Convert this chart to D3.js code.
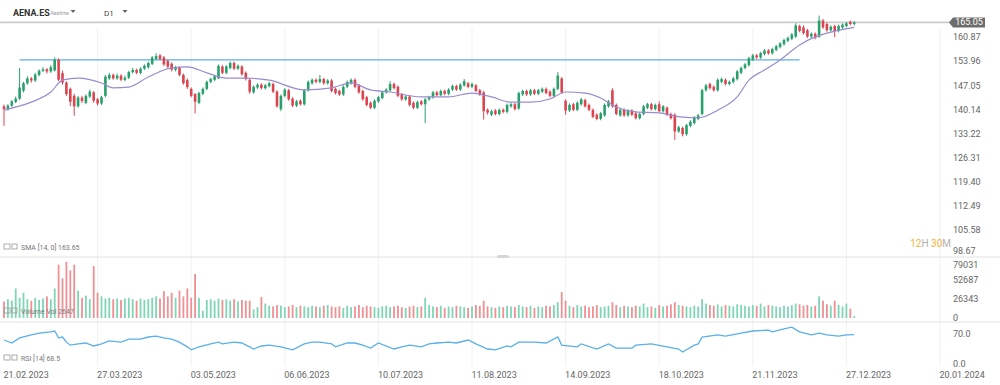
<!DOCTYPE html>
<html>
<head>
<meta charset="utf-8">
<script src="https://cdn.jsdelivr.net/npm/d3@7/dist/d3.min.js"></script>
<style>
  body { margin: 0; background: #fff; }
  #chart { width: 1000px; height: 385px; }
  text { font-family: Roboto, "Open Sans", sans-serif; }
</style>
</head>
<body>
<div id="chart"></div>
<script>
// daily candles AENA.ES, 21.02.2023 .. end of Dec 2023
const open = [
  141.0,140.2,141.2,142.3,143.2,145.5,147.6,149.0,148.4,150.0,
  151.2,151.6,151.0,151.3,154.3,150.5,147.8,146.0,144.0,141.0,
  143.5,142.0,143.8,145.0,143.0,141.8,144.0,149.0,150.0,149.0,
  149.8,148.6,149.2,150.8,151.4,150.6,151.8,152.2,153.2,154.6,
  155.6,155.0,154.0,153.2,151.5,152.0,150.0,148.5,146.0,144.5,
  142.0,144.6,146.0,148.0,148.6,149.0,152.4,150.6,152.0,153.4,
  151.8,152.4,150.6,148.6,145.0,146.4,147.2,146.2,146.8,147.4,
  145.2,140.2,144.0,145.6,143.2,141.2,142.6,141.6,145.6,147.6,
  148.6,148.0,148.8,147.6,148.4,146.0,145.4,144.4,146.6,147.6,
  148.6,147.0,145.4,143.6,142.0,140.6,142.4,143.4,145.0,145.6,
  147.4,146.6,144.4,143.0,143.8,142.0,140.6,142.4,141.6,143.0,
  143.6,145.0,144.2,145.4,144.6,145.8,146.8,145.8,147.0,147.6,
  146.6,147.0,145.6,145.0,140.0,138.6,139.8,138.8,140.0,139.4,
  141.0,141.6,140.4,144.4,145.4,144.4,145.6,144.6,145.2,146.0,
  145.2,144.0,146.0,149.0,142.6,139.8,141.6,140.0,141.6,142.8,
  141.4,140.0,138.6,137.4,138.4,141.0,145.6,141.4,138.4,140.0,
  138.4,139.8,139.0,137.6,138.8,140.6,141.6,140.2,141.6,139.6,
  140.6,138.8,138.6,133.8,134.8,133.0,135.4,136.2,137.4,138.8,
  145.6,147.4,146.6,145.6,148.0,148.6,147.4,148.0,148.8,150.6,
  152.0,152.8,154.4,155.6,155.0,156.0,157.0,156.2,157.2,158.0,
  158.8,159.8,160.4,161.0,164.0,163.6,162.8,161.0,161.8,161.0,
  165.6,164.6,162.8,164.0,162.6,163.6,164.0,165.2,164.6
];
const high = [
  141.5,141.6,142.8,143.8,152.0,148.0,149.6,149.4,150.6,151.6,
  152.2,152.0,152.8,155.0,154.8,151.2,148.2,146.4,144.6,144.0,
  144.0,144.4,145.8,145.4,143.4,144.0,150.0,150.6,150.4,150.4,
  150.2,149.8,151.2,152.0,151.8,152.2,153.0,153.8,155.4,156.2,
  156.0,155.4,154.4,153.6,152.6,152.4,150.4,149.0,146.4,144.8,
  145.2,146.4,148.4,149.2,150.0,153.0,152.8,152.8,153.8,153.8,
  153.0,152.8,151.0,149.0,147.0,147.6,147.6,147.4,148.0,147.8,
  145.6,144.4,146.2,146.0,143.6,142.8,143.0,146.0,148.4,149.0,
  149.0,150.0,149.2,148.8,148.8,146.4,145.8,147.0,148.4,149.0,
  149.0,147.4,145.8,144.0,142.4,143.0,144.0,145.4,146.2,148.2,
  147.8,147.0,144.8,144.2,144.2,142.4,142.6,142.8,143.4,144.0,
  145.4,145.4,145.8,145.8,146.2,147.2,147.2,147.6,148.8,148.0,
  147.8,147.4,146.0,145.4,140.4,140.0,140.2,140.4,140.4,141.8,
  142.0,142.0,145.2,145.8,145.8,146.0,146.0,146.0,146.4,146.4,
  145.6,146.4,150.8,149.4,143.0,141.8,142.0,142.4,143.4,143.2,
  141.8,140.4,139.0,139.4,141.8,142.8,146.2,141.8,140.4,140.4,
  140.2,140.2,139.4,139.2,141.4,142.0,142.0,141.8,142.4,141.4,
  141.0,139.2,139.0,135.4,135.2,136.0,137.0,138.2,138.8,146.0,
  147.4,147.8,147.0,149.0,149.2,149.0,148.4,149.4,151.4,152.4,
  153.4,155.2,156.0,156.0,156.6,157.4,157.4,157.8,158.6,159.4,
  160.4,161.0,162.0,164.8,164.4,164.2,163.2,162.2,162.2,167.0,
  166.0,165.0,164.2,164.4,164.4,164.8,165.2,165.6,165.4
];
const low = [
  135.4,139.8,140.8,141.9,142.8,145.0,147.2,147.8,148.0,149.6,
  150.8,150.4,150.6,151.0,148.2,147.2,144.0,141.0,138.3,140.6,
  142.0,141.6,143.4,142.0,141.2,141.4,143.6,148.6,148.6,148.6,
  148.2,148.2,148.8,150.4,150.2,150.2,151.4,151.8,152.8,154.2,
  154.2,152.6,152.0,151.0,151.0,149.6,147.2,146.0,143.6,139.0,
  141.6,144.2,145.6,147.6,148.2,148.8,150.2,150.2,151.6,151.4,
  151.4,149.8,148.4,144.6,144.6,146.0,145.8,145.8,146.4,144.8,
  140.6,139.6,143.6,142.6,140.8,140.8,141.2,141.2,145.2,147.2,
  147.6,147.6,147.2,147.2,145.0,144.4,144.0,144.0,146.2,147.2,
  146.2,144.6,142.6,141.0,140.2,140.2,142.0,143.0,144.6,145.2,
  145.8,143.6,142.6,142.6,141.0,140.2,140.2,141.2,136.2,142.6,
  143.2,143.8,143.8,144.2,144.2,145.4,145.4,145.4,146.6,146.2,
  146.2,145.0,144.0,137.2,138.6,138.2,138.4,138.4,139.0,139.0,
  140.6,139.8,140.0,144.0,144.0,144.0,144.2,144.2,144.8,144.4,
  143.6,143.6,145.6,144.6,138.6,139.4,139.6,139.6,141.2,140.6,
  139.6,137.6,137.0,137.0,138.0,140.6,140.6,138.4,138.0,138.0,
  138.0,138.2,137.2,137.2,138.4,140.2,139.8,139.8,139.2,139.2,
  138.2,137.2,131.4,133.4,132.4,132.6,135.0,135.8,137.0,138.4,
  145.2,145.8,145.2,145.2,147.6,147.0,147.0,147.6,148.4,150.2,
  151.6,152.4,154.0,154.6,154.6,155.6,155.8,155.8,156.8,157.6,
  158.4,159.4,160.0,160.6,162.2,161.6,160.6,160.6,160.2,160.6,
  163.2,162.4,162.4,160.8,162.2,163.2,163.6,164.2,164.2
];
const close = [
  140.2,141.2,142.4,143.2,146.4,147.6,149.0,148.4,150.1,151.2,
  151.6,151.0,152.2,154.4,148.6,147.8,144.5,142.3,141.0,143.5,
  142.5,144.0,145.2,142.6,141.8,143.6,149.5,150.0,149.0,149.8,
  148.6,149.2,150.8,151.4,150.6,151.8,152.6,153.4,155.0,155.4,
  154.6,153.0,152.4,151.5,152.0,150.0,147.6,146.5,144.0,142.3,
  144.8,146.0,148.0,148.8,149.6,152.6,150.6,152.4,153.4,151.8,
  152.6,150.2,148.8,145.2,146.6,147.2,146.2,147.0,147.6,145.2,
  141.0,144.0,145.8,143.0,141.2,142.4,141.6,145.6,148.0,148.6,
  148.0,148.8,147.6,148.4,145.4,144.8,144.4,146.6,148.0,148.6,
  146.6,145.0,143.0,141.4,140.6,142.6,143.6,145.0,145.8,147.4,
  146.2,144.0,143.0,143.8,141.4,140.6,142.2,141.6,143.0,143.6,
  145.0,144.2,145.4,144.6,145.8,146.8,145.8,147.2,148.2,146.6,
  147.4,145.4,144.4,139.6,139.2,139.6,138.8,140.0,139.4,141.4,
  141.6,140.2,144.8,145.4,144.4,145.6,144.6,145.6,146.0,144.8,
  144.0,146.0,149.8,145.0,139.8,141.4,140.0,142.0,143.0,141.0,
  140.0,138.0,137.4,139.0,141.4,142.4,141.0,138.8,140.0,138.4,
  139.8,138.6,137.6,138.8,141.0,141.6,140.2,141.4,139.6,141.0,
  138.6,137.6,133.8,135.0,133.0,135.6,136.6,137.8,138.4,145.6,
  147.0,146.2,145.6,148.6,148.8,147.4,148.0,149.0,151.0,152.0,
  153.0,154.8,155.6,155.0,156.2,157.0,156.2,157.4,158.2,159.0,
  160.0,160.6,161.6,164.2,162.6,162.0,161.0,161.8,160.6,165.6,
  163.6,162.8,163.8,162.6,164.0,164.4,164.8,164.6,165.05
];
// volume in thousands
const volumeK = [
  23,26,24,41,28,35,26,24,28,25,
  27,30,26,41,74,55,78,66,74,38,
  28,31,26,72,35,30,27,28,26,27,
  25,27,28,26,24,27,25,26,28,30,
  27,37,30,35,28,38,30,41,28,61,
  28,10,25,26,24,27,25,26,24,26,
  23,25,24,24,12,15,29,20,17,16,
  18,17,15,16,18,15,17,16,15,17,
  16,15,17,18,16,15,16,14,17,15,
  16,18,15,17,16,15,14,16,17,15,
  16,17,15,14,16,17,15,16,28,18,
  16,15,17,14,16,15,17,16,15,14,
  16,18,17,24,16,15,14,16,15,17,
  16,15,18,16,15,17,14,16,15,17,
  16,18,22,36,24,17,15,18,16,17,
  15,16,18,15,16,17,22,18,15,17,
  16,15,17,16,20,15,16,14,18,16,
  17,19,22,18,17,16,15,17,16,26,
  20,18,17,19,16,18,17,16,19,18,
  17,16,18,17,20,16,18,17,16,15,
  17,16,18,20,19,17,18,16,17,30,
  24,19,17,24,18,16,20,13,2.647
];
// SMA (14) at bar indices
const smaIdx = [0,2,7,12,15,19,25,28,32,37, 43,47,52,57,62,68,77,84,89,94,
  99,107,114,120,125,130,135,140,144,149, 153,157,162,168,174,178,183,188,191,195,
  199,204,208,211,218];
const smaVal = [139.9,140.5,142.2,145.1,148.5,149.1,147.7,146.3,146.5,149.4,
  152.0,152.3,150.6,149.1,149.1,148.5,145.7,146.3,147.7,145.7,
  145.1,143.7,143.7,144.8,143.7,142.2,142.2,143.1,145.1,144.8,
  143.4,140.8,139.4,139.1,137.9,137.7,139.9,143.7,148.5,151.4,
  154.3,158.6,160.9,162.0,163.65];
// RSI (14) at bar indices
const rsiIdx = [0,2,4,7,9,12,13,14,15,16, 17,19,21,23,25,27,30,32,35,37,
  39,41,43,45,47,48,50,53,55,56, 59,61,64,66,68,71,74,77,79,81,
  84,85,88,90,92,94,96,100,102,104, 107,109,111,114,116,119,121,124,126,129,
  130,132,136,139,142,143,147,148,152,155, 157,161,162,166,170,173,174,177,178,179,
  183,185,189,192,196,197,200,202,204,207, 209,211,214,216,218];
const rsiVal = [56,49,61,68,72,75,77,61,63,51, 44,47,49,42,47,54,51,58,58,63,
  65,61,58,51,40,33,40,47,51,47, 51,49,35,42,44,40,33,47,51,51,
  47,40,49,49,44,37,49,35,40,44, 40,47,49,51,49,56,47,35,33,42,
  40,51,51,49,63,44,40,47,35,47, 37,37,44,47,40,35,28,44,47,63,
  68,65,72,77,79,75,82,86,75,68, 72,68,65,68,68.5];

const priceTicks = [160.87, 153.96, 147.05, 140.14, 133.22, 126.31, 119.40, 112.49, 105.58, 98.67];
const volumeTicksK = [0, 26.343, 52.687, 79.031];
const rsiTicks = [0, 70];
const dateTickIdx = [0, 24, 48, 72, 96, 120, 144, 168, 192, 216, 240];
const dateTickLabels = ["21.02.2023", "27.03.2023", "03.05.2023", "06.06.2023", "10.07.2023",
  "11.08.2023", "14.09.2023", "18.10.2023", "21.11.2023", "27.12.2023", "20.01.2024"];
const lastPrice = 165.05;
const levelPrice = 154.3;
const levelFrom = 4, levelTo = 204;

const width = 1000, height = 385;
const upColor = "#27a06b", downColor = "#dc4450";
const upVol = "#7fd6b5", downVol = "#ef9095";

const xScale = d3.scaleLinear().domain([0, 240]).range([4, 940]);
const yPrice = d3.scaleLinear().domain([98.67, 160.87]).range([254, 37]);
const yVol = d3.scaleLinear().domain([0, 79.031]).range([318, 261]);
const yRsi = d3.scaleLinear().domain([0, 70]).range([364, 334]);

const svg = d3.select("#chart")
              .append("svg")
              .attr("width", width)
              .attr("height", height);

// faint vertical grid
svg.append("g")
   .selectAll("line")
   .data(dateTickIdx.slice(1))
   .enter()
   .append("line")
   .attr("x1", d => xScale(d)).attr("x2", d => xScale(d))
   .attr("y1", 28).attr("y2", 366)
   .attr("stroke", "#f1f1f1");

// panel separators
svg.append("g")
   .selectAll("line")
   .data([257, 322])
   .enter()
   .append("line")
   .attr("x1", 0).attr("x2", width)
   .attr("y1", d => d).attr("y2", d => d)
   .attr("stroke", "#e2e2e2");
svg.append("rect")
   .attr("x", 497).attr("y", 255).attr("width", 12).attr("height", 3).attr("rx", 1.5)
   .attr("fill", "#d6d6d6");

// header
svg.append("text").attr("x", 13).attr("y", 16)
   .attr("font-size", 9).attr("font-weight", "bold").attr("fill", "#333").text("AENA.ES");
svg.append("text").attr("x", 51).attr("y", 15)
   .attr("font-size", 4.5).attr("fill", "#999").text("Realtime");
svg.append("text").attr("x", 104).attr("y", 16)
   .attr("font-size", 8).attr("fill", "#444").text("D1");
svg.append("g")
   .selectAll("path")
   .data([73, 125])
   .enter()
   .append("path")
   .attr("d", d => `M${d - 2.5},10 L${d + 2.5},10 L${d},13 Z`)
   .attr("fill", "#666");

// last price line
svg.append("line")
   .attr("x1", 0).attr("x2", 950)
   .attr("y1", yPrice(lastPrice)).attr("y2", yPrice(lastPrice))
   .attr("stroke", "#cccccc").attr("stroke-width", 1.6);

// horizontal level
svg.append("line")
   .attr("x1", xScale(levelFrom)).attr("x2", xScale(levelTo))
   .attr("y1", yPrice(levelPrice)).attr("y2", yPrice(levelPrice))
   .attr("stroke", "#5eb0e5").attr("stroke-width", 1.3);

// candles
const idx = d3.range(close.length);
const candles = svg.append("g");
candles.selectAll("line")
       .data(idx)
       .enter()
       .append("line")
       .attr("x1", i => xScale(i)).attr("x2", i => xScale(i))
       .attr("y1", i => yPrice(high[i])).attr("y2", i => yPrice(low[i]))
       .attr("stroke", i => close[i] >= open[i] ? upColor : downColor)
       .attr("stroke-width", 1);
candles.selectAll("rect")
       .data(idx)
       .enter()
       .append("rect")
       .attr("x", i => xScale(i) - 1.3)
       .attr("width", 2.6)
       .attr("y", i => yPrice(Math.max(open[i], close[i])))
       .attr("height", i => Math.max(1, Math.abs(yPrice(open[i]) - yPrice(close[i]))))
       .attr("fill", i => close[i] >= open[i] ? upColor : downColor);

// SMA
const smaLine = d3.line()
                  .x(d => xScale(d[0]))
                  .y(d => yPrice(d[1]))
                  .curve(d3.curveMonotoneX);
svg.append("path")
   .datum(smaIdx.map((d, i) => [d, smaVal[i]]))
   .attr("d", smaLine)
   .attr("fill", "none")
   .attr("stroke", "#9a8bd0")
   .attr("stroke-width", 1.2);

// volume
svg.append("g")
   .selectAll("rect")
   .data(idx)
   .enter()
   .append("rect")
   .attr("x", i => xScale(i) - 0.9)
   .attr("width", 1.8)
   .attr("y", i => yVol(volumeK[i]))
   .attr("height", i => yVol(0) - yVol(volumeK[i]))
   .attr("fill", i => close[i] >= open[i] ? upVol : downVol);

// RSI
const rsiLine = d3.line()
                  .x(d => xScale(d[0]))
                  .y(d => yRsi(d[1]));
svg.append("path")
   .datum(rsiIdx.map((d, i) => [d, rsiVal[i]]))
   .attr("d", rsiLine)
   .attr("fill", "none")
   .attr("stroke", "#5ab0e8")
   .attr("stroke-width", 1.3);

// right axes
function styleAxis(g) {
  g.select(".domain").remove();
  g.selectAll("text").attr("fill", "#666").attr("font-size", 9)
   .attr("font-family", "Roboto, 'Open Sans', sans-serif");
}
svg.append("g")
   .attr("transform", "translate(953,0)")
   .call(d3.axisRight(yPrice).tickValues(priceTicks).tickFormat(d3.format(".2f")).tickSize(0).tickPadding(0))
   .call(styleAxis)
   .selectAll("text")
   .filter(d => d === 98.67)
   .attr("dy", "-0.05em");
svg.append("g")
   .attr("transform", "translate(953,0)")
   .call(d3.axisRight(yVol).tickValues(volumeTicksK).tickFormat(d => d3.format("d")(Math.round(d * 1000))).tickSize(0).tickPadding(0))
   .call(styleAxis)
   .selectAll("text")
   .filter(d => d === 79.031)
   .attr("dy", "0.72em");
svg.append("g")
   .attr("transform", "translate(953,0)")
   .call(d3.axisRight(yRsi).tickValues(rsiTicks).tickFormat(d3.format(".1f")).tickSize(0).tickPadding(0))
   .call(styleAxis);

// last price badge
const yl = yPrice(lastPrice);
svg.append("path")
   .attr("d", `M949,${yl} L953,${yl - 5} L985,${yl - 5} L985,${yl + 5} L953,${yl + 5} Z`)
   .attr("fill", "#6d6d6d");
svg.append("text")
   .attr("x", 969).attr("y", yl).attr("dy", "0.33em")
   .attr("text-anchor", "middle").attr("font-size", 9).attr("fill", "#fff")
   .text(d3.format(".2f")(lastPrice));

// date axis
svg.append("g")
   .attr("transform", "translate(0,369)")
   .call(d3.axisBottom(xScale).tickValues(dateTickIdx).tickFormat((d, i) => dateTickLabels[i]).tickSize(0))
   .call(styleAxis)
   .selectAll("text")
   .attr("text-anchor", "start")
   .attr("x", -1);

// countdown
const cd = svg.append("text").attr("x", 951).attr("y", 247)
              .attr("text-anchor", "end").attr("font-size", 10);
[["12", "#f2b23a"], ["H ", "#b0b0b0"], ["30", "#f2b23a"], ["M", "#b0b0b0"]].forEach(p => {
  cd.append("tspan").attr("fill", p[1]).text(p[0]);
});

// legends
const legends = [
  { y: 250, text: "SMA [14, 0] 163.65" },
  { y: 314, text: "Volume    Vol    2647" },
  { y: 361, text: "RSI [14] 68.5" }
];
const lg = svg.append("g")
              .selectAll("g")
              .data(legends)
              .enter()
              .append("g");
lg.append("rect").attr("x", 4).attr("y", d => d.y - 6).attr("width", 6).attr("height", 5)
  .attr("fill", "none").attr("stroke", "#999").attr("stroke-width", 0.8);
lg.append("rect").attr("x", 12).attr("y", d => d.y - 6).attr("width", 5).attr("height", 5)
  .attr("fill", "none").attr("stroke", "#999").attr("stroke-width", 0.8);
lg.append("text").attr("x", 21).attr("y", d => d.y)
  .attr("font-size", 7).attr("fill", "#777").text(d => d.text);
</script>
</body>
</html>
